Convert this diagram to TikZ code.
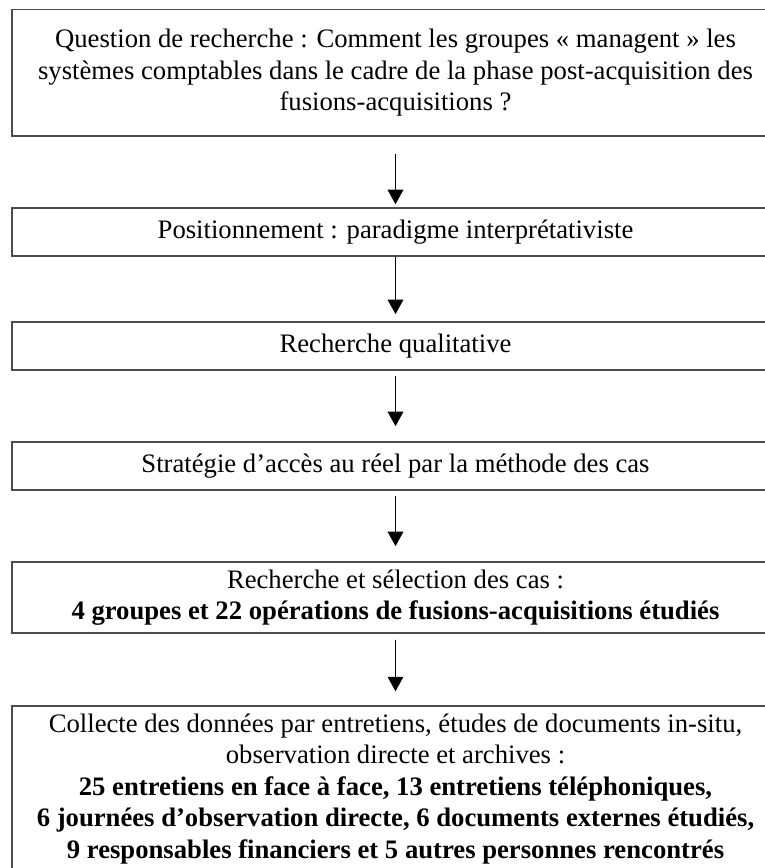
\documentclass[tikz,border=0pt]{standalone}
\usepackage{fontspec}
\setmainfont{Liberation Serif}
\usetikzlibrary{arrows.meta}
\begin{document}
\begin{tikzpicture}[x=0.4386pt,y=-0.4386pt,
  stepbox/.style={draw=black!70, line width=0.65pt, inner sep=0pt,
    minimum width=336.4pt, align=center,
    font=\fontsize{11.7pt}{13.8pt}\selectfont},
  flow/.style={draw=black, line width=0.85pt,
    -{Triangle[width=6.8pt,length=6.4pt]}}]
  % page frame (the last boxes run past the right and bottom edges)
  \clip (0,0) rectangle (765,868);

  \node[stepbox, minimum height=55.5pt] (q) at (395.5,72.75)
    {Question de recherche : Comment les groupes « managent » les\\
     systèmes comptables dans le cadre de la phase post-acquisition des\\
     fusions-acquisitions ?};
  \node[stepbox, minimum height=21.05pt] (pos) at (395.5,232)
    {Positionnement : paradigme interprétativiste};
  \node[stepbox, minimum height=21.05pt] (qual) at (395.5,346)
    {Recherche qualitative};
  \node[stepbox, minimum height=21.05pt] (strat) at (395.5,466)
    {Stratégie d’accès au réel par la méthode des cas};
  \node[stepbox, minimum height=31.14pt] (sel) at (395.5,597.5)
    {Recherche et sélection des cas :\\
     \textbf{4 groupes et 22 opérations de fusions-acquisitions étudiés}};
  \node[stepbox, minimum height=72.8pt] (coll) at (395.5,789)
    {Collecte des données par entretiens, études de documents in-situ,\\
     observation directe et archives :\\
     \textbf{25 entretiens en face à face, 13 entretiens téléphoniques,}\\
     \textbf{6 journées d’observation directe, 6 documents externes étudiés,}\\
     \textbf{9 responsables financiers et 5 autres personnes rencontrés}};

  \draw[flow, shorten <=7.5pt, shorten >=1.3pt] (q.south) -- (pos.north);
  \draw[flow, shorten <=0pt, shorten >=3.1pt] (pos.south) -- (qual.north);
  \draw[flow, shorten <=2.2pt, shorten >=6.6pt] (qual.south) -- (strat.north);
  \draw[flow, shorten <=2.2pt, shorten >=6.6pt] (strat.south) -- (sel.north);
  \draw[flow, shorten <=2.6pt, shorten >=6.1pt] (sel.south) -- (coll.north);
\end{tikzpicture}
\end{document}
